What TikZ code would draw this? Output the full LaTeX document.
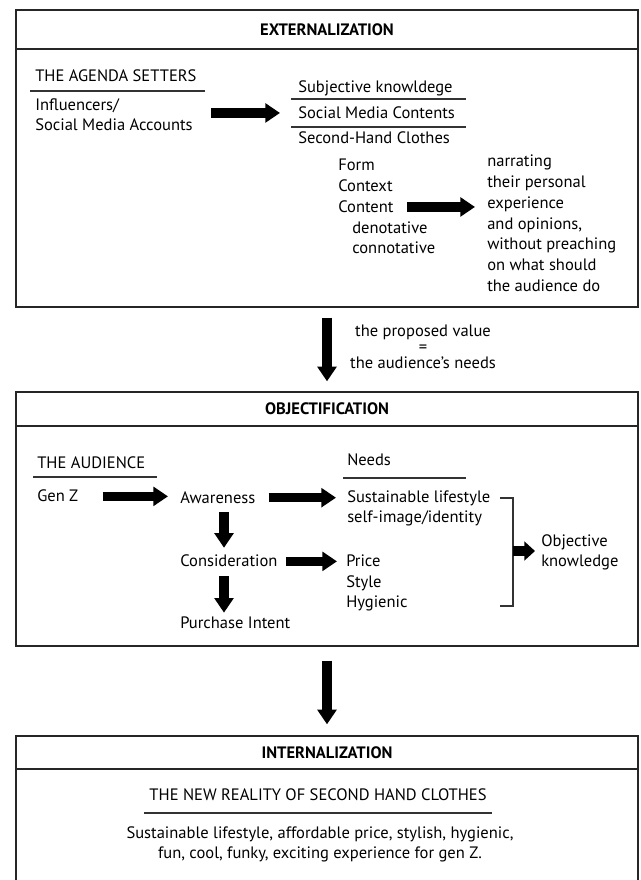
\documentclass[tikz,border=0pt]{standalone}
\usepackage{fontspec}
\setmainfont{PT Sans}
\usetikzlibrary{arrows.meta}

\tikzset{
  txt/.style={inner sep=0pt, anchor=base west, text height=9pt, text depth=1pt},
  para/.style={inner sep=0pt, align=left},
  headbox/.style={draw=black!85, line width=1pt, minimum width=466.5pt, inner sep=0pt, font=\fontsize{12.4}{15}\selectfont\bfseries},
  bodybox/.style={draw=black!85, line width=1pt, minimum width=466.5pt, inner sep=0pt},
  rule/.style={line width=0.8pt, black!80},
  bigarrow/.style={line width=7pt, -{Triangle[width=14pt,length=11pt]}},
  stubarrow/.style={line width=7.5pt, -{Triangle[width=14pt,length=8pt]}},
}

\begin{document}
\begin{tikzpicture}[x=0.75pt,y=0.75pt,yscale=-1,xscale=1, font=\fontsize{12.4}{15.6}\selectfont]
    \useasboundingbox (0,0) rectangle (640,880);

    %Shape: Rectangle [externalization]
    \node[headbox, minimum height=29.25pt] (exthead) at (327,29.5) {EXTERNALIZATION};
    \node[bodybox, minimum height=193.5pt] (extbody) at (327,178) {};

    % Text Node
    \node[txt] (agenda) at (35,81.7) {THE AGENDA SETTERS};
    \draw[rule] (30,91) -- (205,91);
    \node[txt] (influencers) at (35,111) {Influencers/};
    \node[txt] (accounts) at (35,131) {Social Media Accounts};

    % Text Node
    \node[txt] (subjective) at (298,92.7) {Subjective knowldege};
    \draw[rule] (291,99) -- (466,99);
    \node[txt] (contents) at (298,118.3) {Social Media Contents};
    \draw[rule] (291,127) -- (466,127);
    \node[txt] (clothes) at (298,144) {Second-Hand Clothes};

    % Text Node
    \node[txt] (form) at (338,170.7) {Form};
    \node[txt] (context) at (338,191.5) {Context};
    \node[txt] (content) at (338,212.3) {Content};
    \node[txt] (denotative) at (352,233.1) {denotative};
    \node[txt] (connotative) at (352,253.9) {connotative};

    % Text Node (base = last line)
    \node[para, anchor=base west] (narrating) at (487,291.5) {narrating\\their personal\\experience\\and opinions,\\without preaching\\on what should\\the audience do};

    %Arrows
    \draw[bigarrow, shorten <=13.5pt, shorten >=13.5pt] (accounts.east |- contents.west) -- (contents.west);
    \draw[bigarrow, shorten <=9.75pt, shorten >=9pt] (content.east) -- (content.east -| narrating.west);

    % Text Node
    \node[para, align=center, anchor=base, font=\fontsize{12.4}{12}\selectfont] (proposed) at (423,368) {the proposed value\\=\\the audience’s needs};

    %Shape: Rectangle [objectification]
    \node[headbox, minimum height=25.5pt] (objhead) at (327,409) {OBJECTIFICATION};
    \node[bodybox, minimum height=165pt] (objbody) at (327,536) {};
    \draw[bigarrow, shorten <=7.5pt, shorten >=7.5pt] (extbody.south) -- (objhead.north);

    % Text Node
    \node[txt] (audience) at (37,468.3) {THE AUDIENCE};
    \draw[rule] (33,477) -- (157,477);
    \node[txt] (genz) at (37,501.7) {Gen Z};
    \node[txt] (awareness) at (180,503) {Awareness};
    \node[txt] (consideration) at (180,566.7) {Consideration};
    \node[txt] (purchase) at (180,628.3) {Purchase Intent};

    % Text Node
    \node[txt] (needs) at (347,465.7) {Needs};
    \draw[rule] (343,478) -- (466,478);
    \node[txt] (sustainable) at (347,502.7) {Sustainable lifestyle};
    \node[txt] (selfimage) at (347,522.7) {self-image/identity};
    \node[txt] (price) at (346,566.5) {Price};
    \node[txt] (style) at (346,587) {Style};
    \node[txt] (hygienic) at (346,607.5) {Hygienic};
    \node[para, anchor=base west, font=\fontsize{12.4}{15}\selectfont] (objective) at (541,566) {Objective\\knowledge};

    %Arrows
    \draw[bigarrow, shorten <=18pt, shorten >=9pt] (genz.east) -- (genz.east -| awareness.west);
    \draw[bigarrow, shorten <=9.75pt, shorten >=8.25pt] (awareness.east) -- (awareness.east -| sustainable.west);
    \draw[bigarrow, shorten <=5.8pt, shorten >=5pt] ([xshift=33pt]awareness.south west) -- ([xshift=33pt]consideration.north west);
    \draw[bigarrow, shorten <=6pt, shorten >=2.5pt] ([xshift=33pt]consideration.south west) -- ([xshift=33pt]purchase.north west);
    \draw[bigarrow, shorten <=6pt, shorten >=6.75pt] (consideration.east) -- (consideration.east -| price.west);

    %Bracket
    \draw[line width=0.8pt, black!80] (500,498) -- (513,498) -- (513,606) -- (500,606);
    \coordinate (bracket) at (513,551);
    \draw[stubarrow, shorten >=4.5pt] (bracket) -- (bracket -| objective.west);

    %Shape: Rectangle [internalization]
    \node[headbox, minimum height=24.75pt] (interhead) at (327,752.5) {INTERNALIZATION};
    \node[bodybox, minimum height=105pt] (interbody) at (327,839) {};
    \draw[bigarrow, shorten <=10.5pt, shorten >=8.25pt] (objbody.south) -- (interhead.north);

    % Text Node
    \node[txt, anchor=base] (reality) at (318,800) {THE NEW REALITY OF SECOND HAND CLOTHES};
    \draw[rule] (144,813) -- (492,813);
    \node[para, align=center, anchor=base, font=\fontsize{12.4}{15}\selectfont] (summary) at (320,858.3) {Sustainable lifestyle, affordable price, stylish, hygienic,\\fun, cool, funky, exciting experience for gen Z.};

\end{tikzpicture}
\end{document}
